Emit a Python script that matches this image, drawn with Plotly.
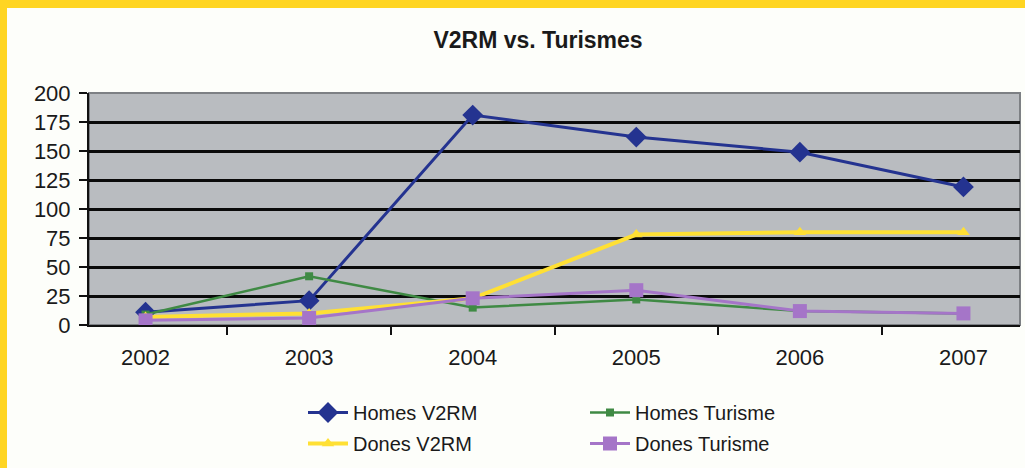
import plotly.graph_objects as go

years = ["2002", "2003", "2004", "2005", "2006", "2007"]
homes_v2rm = [11, 21, 181, 162, 149, 119]
homes_turisme = [9, 42, 15, 22, 12, 10]
dones_v2rm = [7, 10, 23, 78, 80, 80]
dones_turisme = [4, 6, 23, 30, 12, 10]
y_ticks = [0, 25, 50, 75, 100, 125, 150, 175, 200]

FONT = "Liberation Sans, Arial, sans-serif"

fig = go.Figure()
fig.add_trace(go.Scatter(
    x=years, y=homes_v2rm, name="Homes V2RM", mode="lines+markers",
    line=dict(color="#243390", width=3),
    marker=dict(symbol="diamond", size=16, color="#243390"),
    legend="legend", legendgroup="a"))
fig.add_trace(go.Scatter(
    x=years, y=homes_turisme, name="Homes Turisme", mode="lines+markers",
    line=dict(color="#3F8A44", width=2.5),
    marker=dict(symbol="square", size=8, color="#3F8A44"),
    legend="legend2", legendgroup="b"))
fig.add_trace(go.Scatter(
    x=years, y=dones_v2rm, name="Dones V2RM", mode="lines+markers",
    line=dict(color="#FFE034", width=4),
    marker=dict(symbol="triangle-up", size=11, color="#FFE034"),
    legend="legend", legendgroup="c"))
fig.add_trace(go.Scatter(
    x=years, y=dones_turisme, name="Dones Turisme", mode="lines+markers",
    line=dict(color="#A575C8", width=3),
    marker=dict(symbol="square", size=14, color="#A575C8"),
    legend="legend2", legendgroup="d"))

L, R, T, B = 89, 5, 93, 143
PW = 1025 - L - R
PH = 468 - T - B

legend_common = dict(
    orientation="v", yanchor="top", xanchor="left",
    y=1 - (393 - T) / PH,
    font=dict(family=FONT, size=20, color="#1a1a1a"),
    bgcolor="rgba(0,0,0,0)", traceorder="grouped", tracegroupgap=2,
    itemwidth=40,
)

fig.update_layout(
    width=1025, height=468,
    margin=dict(l=L, r=R, t=T, b=B, pad=0),
    paper_bgcolor="#FDFEFA",
    plot_bgcolor="#B9BCC0",
    showlegend=True,
    title=dict(text="<b>V2RM vs. Turismes</b>", x=538 / 1025, xanchor="center",
               y=1 - 40 / 468, yanchor="middle",
               font=dict(family=FONT, size=23, color="#1a1a1a")),
    legend=dict(**legend_common, x=(303 - L) / PW),
    legend2=dict(**legend_common, x=(585 - L) / PW),
    xaxis=dict(
        type="category", categoryorder="array", categoryarray=years,
        showgrid=False, showline=True, linecolor="#111", linewidth=2,
        ticks="outside", tickson="boundaries", ticklen=8, tickwidth=2, tickcolor="#111",
        tickfont=dict(family=FONT, size=22, color="#1a1a1a"),
        zeroline=False, ticklabelstandoff=12,
    ),
    yaxis=dict(
        range=[0, 200], tickvals=y_ticks, ticktext=[str(v) for v in y_ticks],
        showgrid=True, gridcolor="#0a0a0a", gridwidth=2.5,
        showline=True, linecolor="#111", linewidth=2,
        ticks="outside", ticklen=8, tickwidth=2, tickcolor="#111",
        tickfont=dict(family=FONT, size=22, color="#1a1a1a"),
        zeroline=False, ticklabelstandoff=4,
    ),
    shapes=[
        dict(type="rect", xref="paper", yref="paper", x0=0, x1=1, y0=0, y1=1,
             line=dict(color="#7d8084", width=2), fillcolor="rgba(0,0,0,0)", layer="below"),
        # yellow frame: left strip and top strip
        dict(type="rect", xref="paper", yref="paper",
             x0=-L / PW, x1=(7 - L) / PW, y0=-B / PH, y1=1 + T / PH,
             line=dict(width=0), fillcolor="#FFD522", layer="above"),
        dict(type="rect", xref="paper", yref="paper",
             x0=-L / PW, x1=1 + R / PW, y0=1 + (T - 8) / PH, y1=1 + T / PH,
             line=dict(width=0), fillcolor="#FFD522", layer="above"),
    ],
)

fig.write_html(
    "out.html",
    config={"displayModeBar": False},
    post_script=("document.body.style.margin='0';document.body.style.overflow='hidden';"
                 "document.body.style.background='#FDFEFA';"),
)
